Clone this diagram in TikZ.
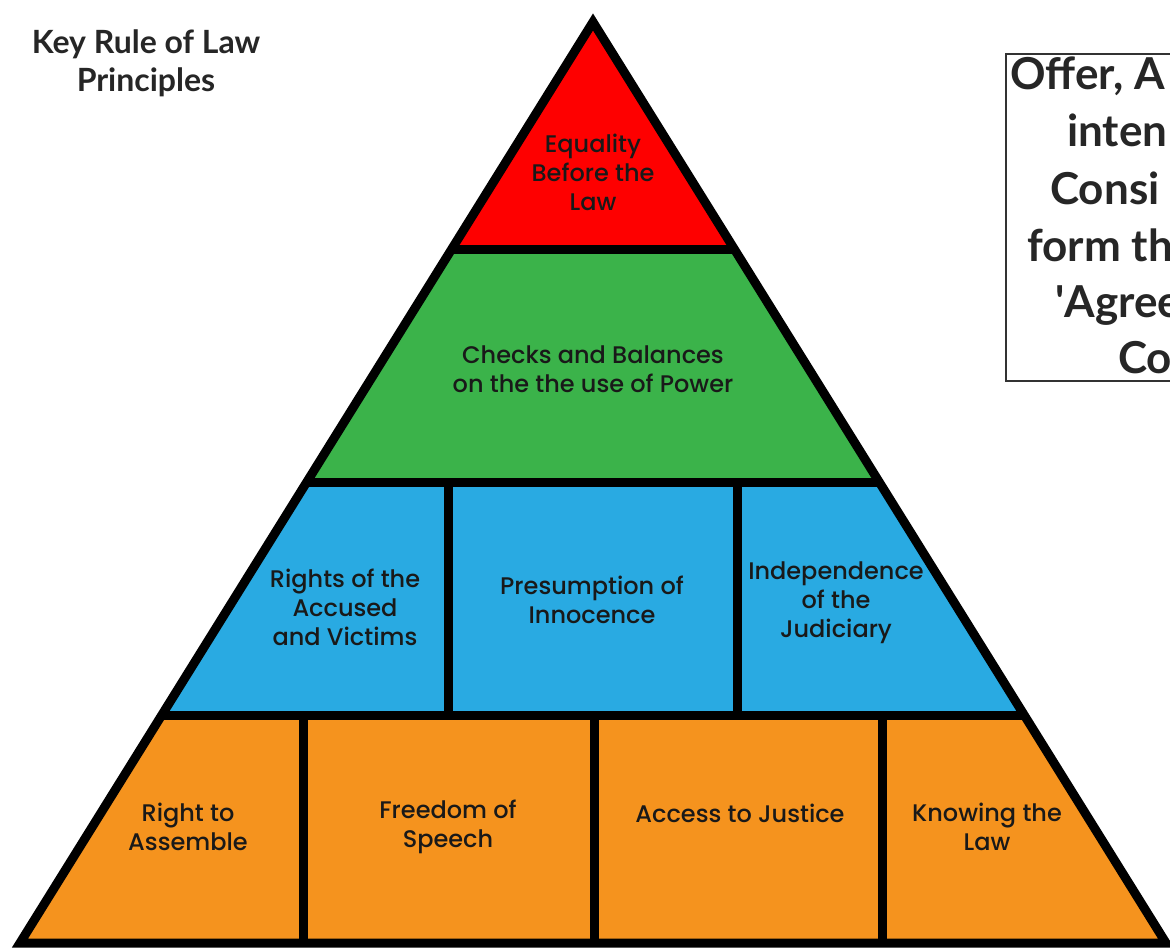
\documentclass[tikz,border=0pt]{standalone}
\usepackage{fontspec}
\usepackage{tikz}
\usetikzlibrary{calc, positioning}
\setmainfont{Poppins}[UprightFont=* Medium]
\newfontfamily\headfont{Lato}
\definecolor{tierred}{RGB}{254,0,0}
\definecolor{tiergreen}{RGB}{59,179,74}
\definecolor{tierblue}{RGB}{41,170,226}
\definecolor{tierorange}{RGB}{245,147,30}
\tikzstyle{lbl}=[align=center, inner sep=0pt, text=black!90, font=\fontsize{24}{29}\selectfont]
\tikzstyle{rim}=[line width=9pt, line join=miter, black]
\tikzstyle{head}=[align=center, inner sep=0pt, text=black!85, font=\headfont\bfseries\fontsize{32}{38}\selectfont]
\tikzstyle{boxtxt}=[anchor=base west, inner sep=0pt, text=black!85, font=\headfont\bfseries\fontsize{44}{57}\selectfont]

\begin{document}
\begin{tikzpicture}[x=1pt, y=-1pt]
\useasboundingbox (0,0) rectangle (1170,949);
\clip (0,0) rectangle (1170,949);

\coordinate (A0) at (593,22);
\coordinate (L0) at (20,943);
\coordinate (R0) at (1166,943);
\foreach \i/\t in {1/0.247, 2/0.5, 3/0.753}{
  \coordinate (L\i) at ($(A0)!\t!(L0)$);
  \coordinate (R\i) at ($(A0)!\t!(R0)$);
}
\coordinate (V1) at (448,0);
\coordinate (V2) at (737,0);
\coordinate (W1) at (303,0);
\coordinate (W2) at (594,0);
\coordinate (W3) at (882,0);

\fill[tierred] (A0) -- (L1) -- (R1) -- cycle;
\fill[tiergreen] (L1) -- (R1) -- (R2) -- (L2) -- cycle;
\fill[tierblue] (L2) -- (R2) -- (R3) -- (L3) -- cycle;
\fill[tierorange] (L3) -- (R3) -- (R0) -- (L0) -- cycle;

\draw[rim] (L1) -- (R1);
\draw[rim] (L2) -- (R2);
\draw[rim] (L3) -- (R3);
\draw[rim] (L2 -| V1) -- (L3 -| V1);
\draw[rim] (L2 -| V2) -- (L3 -| V2);
\draw[rim] (L3 -| W1) -- (L0 -| W1);
\draw[rim] (L3 -| W2) -- (L0 -| W2);
\draw[rim] (L3 -| W3) -- (L0 -| W3);
\draw[rim] (A0) -- (L0) -- (R0) -- cycle;

\node[lbl] (eq) at (593,172) {Equality\\Before the\\Law};
\node[lbl] (cb) at (593,369) {Checks and Balances\\on the the use of Power};
\node[lbl] (ra) at (345,607) {Rights of the\\Accused\\and Victims};
\node[lbl] (pi) at (592,600) {Presumption of\\Innocence};
\node[lbl] (ij) at (836,603) {Independence\\of the\\Judiciary};
\node[lbl] (as) at (188,827) {Right to\\Assemble};
\node[lbl] (fs) at (448,827) {Freedom of\\Speech};
\node[lbl] (aj) at (740,813) {Access to Justice};
\node[lbl] (kl) at (987,827) {Knowing the\\Law};

\node[head] (key) at (146,63) {Key Rule of Law\\Principles};

\draw[black!80, line width=2pt] (1006,54) rectangle (1200,381);
\node[boxtxt] (o1) at (1010,90) {Offer, A};
\node[boxtxt] (o2) at (1067,147) {inten};
\node[boxtxt] (o3) at (1050,205) {Consi};
\node[boxtxt] (o4) at (1027,262) {form th};
\node[boxtxt] (o5) at (1055,318) {\textquotesingle Agree};
\node[boxtxt] (o6) at (1118,374) {Co};
\end{tikzpicture}
\end{document}
